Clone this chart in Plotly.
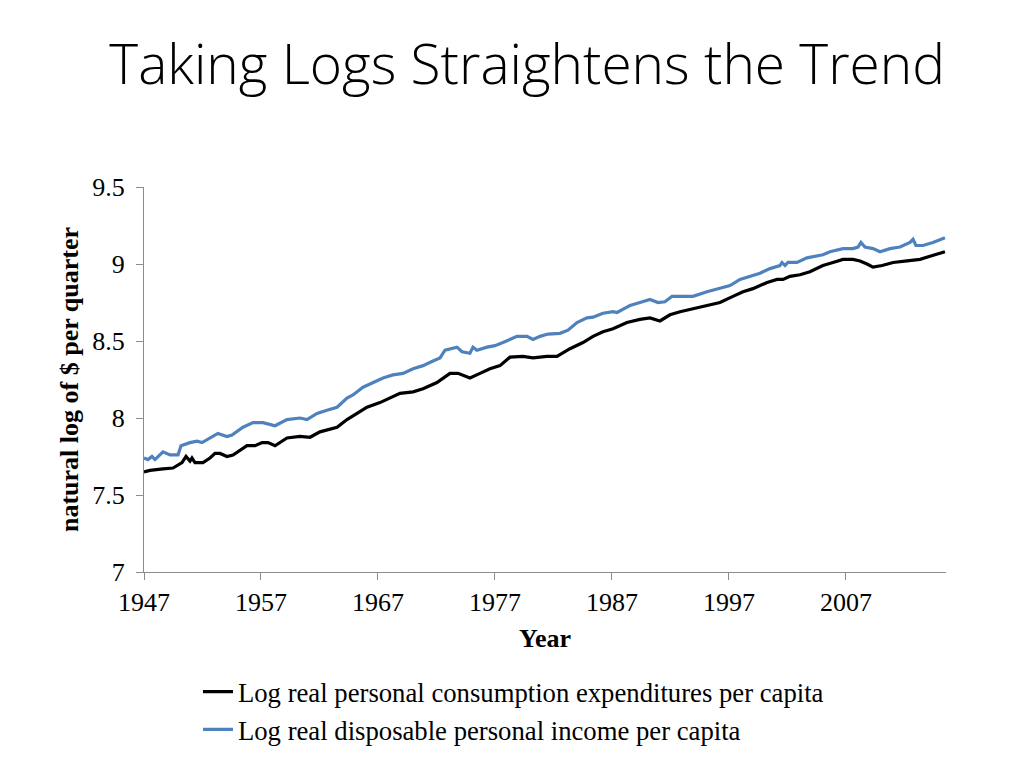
import plotly.graph_objects as go

# Log real disposable personal income per capita (blue)
income_years = [1947.0, 1947.34, 1947.68, 1947.94, 1948.62, 1949.22, 1949.91, 1950.16, 1950.93, 1951.53,
                1951.96, 1952.64, 1953.32, 1954.09, 1954.52, 1955.46, 1956.32, 1957.17, 1958.20, 1959.22,
                1960.33, 1960.93, 1961.79, 1962.64, 1963.50, 1964.35, 1964.86, 1965.72, 1966.57, 1967.43,
                1968.28, 1969.14, 1970.0, 1970.85, 1971.70, 1972.30, 1972.73, 1973.75, 1974.18, 1974.86,
                1975.12, 1975.46, 1976.32, 1977.0, 1977.68, 1978.28, 1978.88, 1979.74, 1980.25, 1980.85,
                1981.53, 1982.56, 1983.24, 1984.01, 1984.86, 1985.38, 1986.23, 1987.09, 1987.43, 1988.28,
                1988.54, 1989.39, 1990.25, 1990.93, 1991.53, 1992.13, 1993.07, 1993.92, 1995.12, 1996.23,
                1997.09, 1997.94, 1998.80, 1999.65, 2000.50, 2001.36, 2001.53, 2001.79, 2002.04, 2002.81,
                2003.67, 2004.52, 2005.03, 2005.63, 2006.74, 2007.60, 2008.03, 2008.28, 2008.62, 2009.31,
                2009.91, 2010.76, 2011.62, 2012.47, 2012.73, 2012.98, 2013.58, 2014.44, 2015.46]
income_vals = [7.74, 7.73, 7.75, 7.73, 7.78, 7.76, 7.76, 7.82, 7.84, 7.85,
               7.84, 7.87, 7.90, 7.88, 7.89, 7.94, 7.97, 7.97, 7.95, 7.99,
               8.00, 7.99, 8.03, 8.05, 8.07, 8.13, 8.15, 8.20, 8.23, 8.26,
               8.28, 8.29, 8.32, 8.34, 8.37, 8.39, 8.44, 8.46, 8.43, 8.42,
               8.46, 8.44, 8.46, 8.47, 8.49, 8.51, 8.53, 8.53, 8.51, 8.53,
               8.545, 8.55, 8.57, 8.62, 8.65, 8.655, 8.68, 8.69, 8.685, 8.72,
               8.73, 8.75, 8.77, 8.75, 8.755, 8.79, 8.79, 8.79, 8.82, 8.84,
               8.86, 8.90, 8.92, 8.94, 8.97, 8.99, 9.01, 8.99, 9.01, 9.01,
               9.04, 9.05, 9.06, 9.08, 9.10, 9.10, 9.11, 9.14, 9.11, 9.10,
               9.08, 9.10, 9.11, 9.14, 9.16, 9.12, 9.12, 9.14, 9.17]

# Log real personal consumption expenditures per capita (black)
consumption_years = [1947.0, 1947.51, 1948.62, 1949.48, 1950.25, 1950.59, 1950.93, 1951.10, 1951.36, 1952.04,
                     1952.64, 1953.07, 1953.50, 1954.09, 1954.61, 1955.21, 1955.80, 1956.49, 1957.09, 1957.60,
                     1958.20, 1959.22, 1960.33, 1961.19, 1962.04, 1963.50, 1964.35, 1965.21, 1966.06, 1967.17,
                     1968.03, 1968.88, 1970.0, 1970.85, 1972.04, 1973.15, 1973.84, 1974.61, 1974.86, 1975.72,
                     1976.57, 1977.43, 1978.28, 1979.39, 1980.25, 1981.44, 1982.30, 1983.41, 1984.52, 1985.38,
                     1986.23, 1987.09, 1988.28, 1989.39, 1990.25, 1991.10, 1991.96, 1992.82, 1993.92, 1995.12,
                     1996.23, 1997.34, 1998.20, 1999.05, 2000.26, 2001.11, 2001.62, 2002.21, 2003.07, 2003.92,
                     2005.03, 2005.89, 2006.74, 2007.60, 2008.20, 2008.80, 2009.31, 2010.09, 2011.03, 2012.22,
                     2013.33, 2014.18, 2015.46]
consumption_vals = [7.65, 7.66, 7.67, 7.675, 7.71, 7.75, 7.72, 7.74, 7.71, 7.71,
                    7.74, 7.77, 7.77, 7.75, 7.76, 7.79, 7.82, 7.82, 7.84, 7.84,
                    7.82, 7.87, 7.88, 7.875, 7.91, 7.94, 7.99, 8.03, 8.07, 8.10,
                    8.13, 8.16, 8.17, 8.19, 8.23, 8.29, 8.29, 8.27, 8.26, 8.29,
                    8.32, 8.34, 8.395, 8.40, 8.39, 8.40, 8.40, 8.45, 8.49, 8.53,
                    8.56, 8.58, 8.62, 8.64, 8.65, 8.63, 8.67, 8.69, 8.71, 8.73,
                    8.75, 8.79, 8.82, 8.84, 8.88, 8.90, 8.90, 8.92, 8.93, 8.95,
                    8.99, 9.01, 9.03, 9.03, 9.02, 9.00, 8.98, 8.99, 9.01, 9.02,
                    9.03, 9.05, 9.08]

x_ticks = [1947, 1957, 1967, 1977, 1987, 1997, 2007]
y_ticks = [7, 7.5, 8, 8.5, 9, 9.5]
y_tick_labels = ["7", "7.5", "8", "8.5", "9", "9.5"]

serif = "Liberation Serif, Times New Roman, serif"

fig = go.Figure()
fig.add_trace(go.Scatter(x=consumption_years, y=consumption_vals, mode="lines",
                         name="Log real personal consumption expenditures per capita",
                         legendgroup="c",
                         line=dict(color="#000000", width=3.2)))
fig.add_trace(go.Scatter(x=income_years, y=income_vals, mode="lines",
                         name="Log real disposable personal income per capita",
                         legendgroup="i",
                         line=dict(color="#4F81BD", width=3.2)))

fig.update_layout(
    width=1024, height=768,
    paper_bgcolor="white", plot_bgcolor="white",
    margin=dict(l=136, r=86, t=179, b=204, autoexpand=False),
    title=dict(text="Taking Logs Straightens the Trend", x=0.507, xanchor="center",
               y=0.926, yanchor="middle",
               font=dict(family="Open Sans, Lato, sans-serif", size=55, color="#000000", weight=300)),
    xaxis=dict(range=[1947, 2015.55], tickvals=x_ticks, ticktext=[str(v) for v in x_ticks],
               showgrid=False, zeroline=False, showline=True, linecolor="#8c8c8c", linewidth=1,
               ticks="outside", ticklen=7, tickcolor="#8c8c8c",
               tickfont=dict(family=serif, size=26, color="#000000"),
               title=dict(text="<b>Year</b>", font=dict(family=serif, size=26, color="#000000"), standoff=12)),
    yaxis=dict(range=[7, 9.5], tickvals=y_ticks, ticktext=y_tick_labels,
               showgrid=False, zeroline=False, showline=True, linecolor="#8c8c8c", linewidth=1,
               ticks="outside", ticklen=7, tickcolor="#8c8c8c", ticklabelstandoff=6,
               tickfont=dict(family=serif, size=26, color="#000000"),
               title=dict(text="<b>natural log of $ per quarter</b>",
                          font=dict(family=serif, size=26, color="#000000"), standoff=6)),
    legend=dict(orientation="v", x=0.0673, xanchor="left", y=-0.249, yanchor="top",
                font=dict(family=serif, size=26.7, color="#000000"),
                bgcolor="rgba(0,0,0,0)", itemwidth=30, tracegroupgap=0),
    showlegend=True,
)

fig.write_html("out.html")
